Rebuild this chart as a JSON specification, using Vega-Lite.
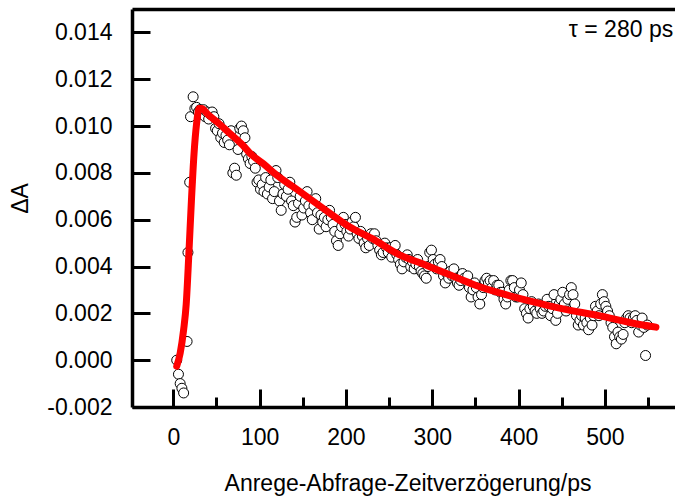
{
  "$schema": "https://vega.github.io/schema/vega-lite/v6.json",
  "autosize": {"type": "none"},
  "padding": {"left": 132, "top": 9, "right": 0, "bottom": 91},
  "width": 543,
  "height": 398,
  "background": "white",
  "config": {
    "view": {"stroke": null},
    "font": "Liberation Sans",
    "axis": {
      "grid": false,
      "domainColor": "black",
      "domainWidth": 3.5,
      "tickColor": "black",
      "tickWidth": 3,
      "labelColor": "black",
      "labelFont": "Liberation Sans",
      "labelFontSize": 23,
      "titleColor": "black",
      "titleFont": "Liberation Sans",
      "titleFontSize": 23,
      "titleFontWeight": "normal"
    }
  },
  "datasets": {
    "obs": [
      {"t": 4, "dA": 0.0000}, {"t": 6, "dA": -0.0006}, {"t": 8, "dA": -0.0010}, {"t": 10, "dA": -0.0012},
      {"t": 12, "dA": -0.0014}, {"t": 16, "dA": 0.0008}, {"t": 17, "dA": 0.0046}, {"t": 19, "dA": 0.0076},
      {"t": 20, "dA": 0.0104}, {"t": 23, "dA": 0.01125}, {"t": 25, "dA": 0.01075}, {"t": 27, "dA": 0.0108},
      {"t": 29, "dA": 0.0106}, {"t": 31, "dA": 0.0107}, {"t": 33, "dA": 0.0105}, {"t": 35, "dA": 0.0107},
      {"t": 37, "dA": 0.0104}, {"t": 39, "dA": 0.0106}, {"t": 41, "dA": 0.0103}, {"t": 43, "dA": 0.0105},
      {"t": 45, "dA": 0.0106}, {"t": 47, "dA": 0.0104}, {"t": 49, "dA": 0.0099}, {"t": 51, "dA": 0.0098},
      {"t": 53, "dA": 0.0101}, {"t": 55, "dA": 0.0095}, {"t": 57, "dA": 0.0097}, {"t": 59, "dA": 0.0093},
      {"t": 61, "dA": 0.0096}, {"t": 63, "dA": 0.0094}, {"t": 65, "dA": 0.0092}, {"t": 67, "dA": 0.0098},
      {"t": 69, "dA": 0.0080}, {"t": 71, "dA": 0.0082}, {"t": 73, "dA": 0.0079}, {"t": 75, "dA": 0.0090},
      {"t": 77, "dA": 0.0099}, {"t": 79, "dA": 0.0100}, {"t": 81, "dA": 0.0098}, {"t": 83, "dA": 0.0095},
      {"t": 85, "dA": 0.0088}, {"t": 87, "dA": 0.0086}, {"t": 89, "dA": 0.0084}, {"t": 91, "dA": 0.0087},
      {"t": 93, "dA": 0.0085}, {"t": 95, "dA": 0.0082}, {"t": 97, "dA": 0.0076}, {"t": 99, "dA": 0.0077},
      {"t": 101, "dA": 0.0073}, {"t": 103, "dA": 0.0075}, {"t": 105, "dA": 0.0072}, {"t": 107, "dA": 0.0078},
      {"t": 109, "dA": 0.0071}, {"t": 111, "dA": 0.0074}, {"t": 113, "dA": 0.0077}, {"t": 115, "dA": 0.0069},
      {"t": 117, "dA": 0.0072}, {"t": 119, "dA": 0.0081}, {"t": 121, "dA": 0.0078}, {"t": 123, "dA": 0.0068},
      {"t": 125, "dA": 0.0064}, {"t": 127, "dA": 0.0071}, {"t": 129, "dA": 0.0075}, {"t": 131, "dA": 0.0070},
      {"t": 133, "dA": 0.0073}, {"t": 135, "dA": 0.0076}, {"t": 137, "dA": 0.0068}, {"t": 139, "dA": 0.0066},
      {"t": 141, "dA": 0.0059}, {"t": 143, "dA": 0.0061}, {"t": 145, "dA": 0.0067}, {"t": 147, "dA": 0.0070},
      {"t": 149, "dA": 0.0062}, {"t": 151, "dA": 0.0065}, {"t": 153, "dA": 0.0068}, {"t": 155, "dA": 0.0072},
      {"t": 157, "dA": 0.0066}, {"t": 159, "dA": 0.0063}, {"t": 161, "dA": 0.0060}, {"t": 163, "dA": 0.0066},
      {"t": 165, "dA": 0.0069}, {"t": 167, "dA": 0.0063}, {"t": 169, "dA": 0.0056}, {"t": 171, "dA": 0.0062},
      {"t": 173, "dA": 0.0059}, {"t": 175, "dA": 0.0061}, {"t": 177, "dA": 0.0057}, {"t": 179, "dA": 0.0060},
      {"t": 181, "dA": 0.0064}, {"t": 183, "dA": 0.0061}, {"t": 185, "dA": 0.0058}, {"t": 187, "dA": 0.0055},
      {"t": 189, "dA": 0.0051}, {"t": 191, "dA": 0.0049}, {"t": 193, "dA": 0.0054}, {"t": 195, "dA": 0.0057},
      {"t": 197, "dA": 0.0061}, {"t": 199, "dA": 0.0058}, {"t": 201, "dA": 0.0055}, {"t": 203, "dA": 0.0053},
      {"t": 205, "dA": 0.0056}, {"t": 207, "dA": 0.0059}, {"t": 209, "dA": 0.0057}, {"t": 211, "dA": 0.0061},
      {"t": 213, "dA": 0.0054}, {"t": 215, "dA": 0.0052}, {"t": 217, "dA": 0.0055}, {"t": 219, "dA": 0.0053},
      {"t": 221, "dA": 0.0050}, {"t": 223, "dA": 0.0048}, {"t": 225, "dA": 0.0052}, {"t": 227, "dA": 0.0049},
      {"t": 229, "dA": 0.0054}, {"t": 231, "dA": 0.0052}, {"t": 233, "dA": 0.0054}, {"t": 235, "dA": 0.0051},
      {"t": 237, "dA": 0.0049}, {"t": 239, "dA": 0.0047}, {"t": 241, "dA": 0.0045}, {"t": 243, "dA": 0.0046},
      {"t": 245, "dA": 0.0050}, {"t": 247, "dA": 0.0048}, {"t": 249, "dA": 0.0046}, {"t": 251, "dA": 0.0048},
      {"t": 253, "dA": 0.0044}, {"t": 255, "dA": 0.0047}, {"t": 257, "dA": 0.0049}, {"t": 259, "dA": 0.0045},
      {"t": 261, "dA": 0.0043}, {"t": 263, "dA": 0.0041}, {"t": 265, "dA": 0.0039}, {"t": 267, "dA": 0.0042},
      {"t": 269, "dA": 0.0044}, {"t": 271, "dA": 0.0045}, {"t": 273, "dA": 0.0043}, {"t": 275, "dA": 0.0040},
      {"t": 277, "dA": 0.0042}, {"t": 279, "dA": 0.0039}, {"t": 281, "dA": 0.0041}, {"t": 283, "dA": 0.0043},
      {"t": 285, "dA": 0.0040}, {"t": 287, "dA": 0.0038}, {"t": 289, "dA": 0.0037}, {"t": 291, "dA": 0.0036},
      {"t": 293, "dA": 0.0035}, {"t": 295, "dA": 0.0040}, {"t": 297, "dA": 0.0046}, {"t": 299, "dA": 0.0047},
      {"t": 301, "dA": 0.0043}, {"t": 303, "dA": 0.0041}, {"t": 305, "dA": 0.0039}, {"t": 307, "dA": 0.0042},
      {"t": 309, "dA": 0.0043}, {"t": 311, "dA": 0.0040}, {"t": 313, "dA": 0.0036}, {"t": 315, "dA": 0.0033},
      {"t": 317, "dA": 0.0037}, {"t": 319, "dA": 0.0035}, {"t": 321, "dA": 0.0038}, {"t": 323, "dA": 0.0036},
      {"t": 325, "dA": 0.0039}, {"t": 327, "dA": 0.0035}, {"t": 329, "dA": 0.0033}, {"t": 331, "dA": 0.0032},
      {"t": 333, "dA": 0.0034}, {"t": 335, "dA": 0.0037}, {"t": 337, "dA": 0.0035}, {"t": 339, "dA": 0.0034},
      {"t": 341, "dA": 0.0036}, {"t": 343, "dA": 0.0031}, {"t": 345, "dA": 0.0027}, {"t": 347, "dA": 0.0030},
      {"t": 349, "dA": 0.0033}, {"t": 351, "dA": 0.0031}, {"t": 353, "dA": 0.0027}, {"t": 355, "dA": 0.0024},
      {"t": 357, "dA": 0.0028}, {"t": 359, "dA": 0.0031}, {"t": 361, "dA": 0.0034}, {"t": 363, "dA": 0.0035},
      {"t": 365, "dA": 0.0033}, {"t": 367, "dA": 0.0034}, {"t": 369, "dA": 0.0031}, {"t": 371, "dA": 0.0034},
      {"t": 373, "dA": 0.0030}, {"t": 375, "dA": 0.0032}, {"t": 377, "dA": 0.0032}, {"t": 379, "dA": 0.0029},
      {"t": 381, "dA": 0.0029}, {"t": 383, "dA": 0.0026}, {"t": 385, "dA": 0.0024}, {"t": 387, "dA": 0.0027},
      {"t": 389, "dA": 0.0030}, {"t": 391, "dA": 0.0034}, {"t": 393, "dA": 0.0034}, {"t": 395, "dA": 0.0031},
      {"t": 397, "dA": 0.0027}, {"t": 399, "dA": 0.0027}, {"t": 401, "dA": 0.0030}, {"t": 403, "dA": 0.0033},
      {"t": 405, "dA": 0.0028}, {"t": 407, "dA": 0.0022}, {"t": 409, "dA": 0.0020}, {"t": 411, "dA": 0.0018},
      {"t": 413, "dA": 0.0022}, {"t": 415, "dA": 0.0025}, {"t": 417, "dA": 0.0023}, {"t": 419, "dA": 0.0021},
      {"t": 421, "dA": 0.0020}, {"t": 423, "dA": 0.0024}, {"t": 425, "dA": 0.0022}, {"t": 427, "dA": 0.0020},
      {"t": 429, "dA": 0.0021}, {"t": 431, "dA": 0.0023}, {"t": 433, "dA": 0.0026}, {"t": 435, "dA": 0.0023},
      {"t": 437, "dA": 0.0019}, {"t": 439, "dA": 0.0022}, {"t": 441, "dA": 0.0028}, {"t": 443, "dA": 0.0017},
      {"t": 445, "dA": 0.0020}, {"t": 447, "dA": 0.0024}, {"t": 449, "dA": 0.0026}, {"t": 451, "dA": 0.0029},
      {"t": 453, "dA": 0.0024}, {"t": 455, "dA": 0.0021}, {"t": 457, "dA": 0.0026}, {"t": 459, "dA": 0.0028},
      {"t": 461, "dA": 0.0031}, {"t": 463, "dA": 0.0028}, {"t": 465, "dA": 0.0024}, {"t": 467, "dA": 0.0019},
      {"t": 469, "dA": 0.0015}, {"t": 471, "dA": 0.0017}, {"t": 473, "dA": 0.0019}, {"t": 475, "dA": 0.0015},
      {"t": 477, "dA": 0.0018}, {"t": 479, "dA": 0.0016}, {"t": 481, "dA": 0.0013}, {"t": 483, "dA": 0.0018},
      {"t": 485, "dA": 0.0015}, {"t": 487, "dA": 0.0019}, {"t": 489, "dA": 0.0023}, {"t": 491, "dA": 0.0021},
      {"t": 493, "dA": 0.0019}, {"t": 495, "dA": 0.0024}, {"t": 497, "dA": 0.0028}, {"t": 499, "dA": 0.0025},
      {"t": 501, "dA": 0.0023}, {"t": 503, "dA": 0.0021}, {"t": 505, "dA": 0.0019}, {"t": 507, "dA": 0.0016},
      {"t": 509, "dA": 0.0014}, {"t": 511, "dA": 0.0010}, {"t": 513, "dA": 0.0007}, {"t": 515, "dA": 0.0012},
      {"t": 517, "dA": 0.0010}, {"t": 519, "dA": 0.0009}, {"t": 521, "dA": 0.0011}, {"t": 523, "dA": 0.0016},
      {"t": 525, "dA": 0.0018}, {"t": 527, "dA": 0.0019}, {"t": 529, "dA": 0.0018}, {"t": 531, "dA": 0.0016},
      {"t": 533, "dA": 0.0018}, {"t": 535, "dA": 0.0019}, {"t": 537, "dA": 0.0017}, {"t": 539, "dA": 0.0012},
      {"t": 541, "dA": 0.0015}, {"t": 543, "dA": 0.0018}, {"t": 545, "dA": 0.0014}, {"t": 547, "dA": 0.0002},
      {"t": 549, "dA": 0.0015}
    ],
    "fit": [
      {"t": 4, "dA": -0.00026}, {"t": 8, "dA": 0.0003}, {"t": 12, "dA": 0.0013}, {"t": 15, "dA": 0.0024},
      {"t": 18, "dA": 0.0045}, {"t": 21, "dA": 0.0068}, {"t": 24, "dA": 0.0088}, {"t": 27, "dA": 0.0101},
      {"t": 30, "dA": 0.01075}, {"t": 33, "dA": 0.01075}, {"t": 40, "dA": 0.0105}, {"t": 50, "dA": 0.0102},
      {"t": 65, "dA": 0.0097}, {"t": 80, "dA": 0.0092}, {"t": 90, "dA": 0.0088}, {"t": 104, "dA": 0.0084},
      {"t": 120, "dA": 0.0079}, {"t": 143, "dA": 0.0073}, {"t": 173, "dA": 0.0065}, {"t": 204, "dA": 0.0057},
      {"t": 230, "dA": 0.0052}, {"t": 262, "dA": 0.0045}, {"t": 290, "dA": 0.0041}, {"t": 320, "dA": 0.00365},
      {"t": 350, "dA": 0.0032}, {"t": 380, "dA": 0.00285}, {"t": 416, "dA": 0.0025}, {"t": 450, "dA": 0.0022},
      {"t": 493, "dA": 0.0019}, {"t": 530, "dA": 0.0016}, {"t": 559, "dA": 0.00141}
    ],
    "note": [
      {"t": 579, "dA": 0.0141, "label": "τ = 280 ps"}
    ]
  },
  "resolve": {"axis": {"x": "independent"}},
  "layer": [
    {
      "data": {"name": "obs"},
      "mark": {"type": "point", "shape": "circle", "size": 100, "filled": false, "fill": "white", "fillOpacity": 1, "stroke": "black", "strokeWidth": 1, "opacity": 1},
      "encoding": {
        "x": {
          "field": "t", "type": "quantitative",
          "scale": {"domain": [-47.8, 581.1], "nice": false, "zero": false},
          "axis": {
            "orient": "bottom",
            "values": [0, 50, 100, 150, 200, 250, 300, 350, 400, 450, 500, 550],
            "labelExpr": "datum.value % 100 == 0 ? datum.label : ''",
            "tickSize": {"condition": {"test": "datum.value % 100 == 0", "value": -18}, "value": -10},
            "labelPadding": 37,
            "title": "Anrege-Abfrage-Zeitverzögerung/ps",
            "titleX": 275.5,
            "titleY": 65
          }
        },
        "y": {
          "field": "dA", "type": "quantitative",
          "scale": {"domain": [-0.002, 0.015], "nice": false, "zero": false},
          "axis": {
            "orient": "left",
            "values": [-0.002, -0.001, 0, 0.001, 0.002, 0.003, 0.004, 0.005, 0.006, 0.007, 0.008, 0.009, 0.010, 0.011, 0.012, 0.013, 0.014],
            "labelExpr": "abs(round(datum.value * 1000)) % 2 == 0 ? (datum.value < 0 ? '-' + format(-datum.value, '.3f') : format(datum.value, '.3f')) : ''",
            "tickSize": {"condition": {"test": "abs(round(datum.value * 1000)) % 2 == 0", "value": -18}, "value": -10},
            "labelPadding": 38,
            "title": "ΔA",
            "titleX": -100,
            "titleY": 189
          }
        }
      }
    },
    {
      "data": {"name": "fit"},
      "mark": {"type": "line", "color": "#ff0000", "strokeWidth": 7, "strokeCap": "round", "strokeJoin": "round", "interpolate": "monotone"},
      "encoding": {
        "x": {
          "field": "t", "type": "quantitative",
          "scale": {"domain": [-47.8, 581.1], "nice": false, "zero": false},
          "axis": {"orient": "top", "labels": false, "ticks": false, "title": null, "domain": true}
        },
        "y": {
          "field": "dA", "type": "quantitative",
          "scale": {"domain": [-0.002, 0.015], "nice": false, "zero": false}
        }
      }
    },
    {
      "data": {"name": "note"},
      "mark": {"type": "text", "align": "right", "baseline": "middle", "font": "Liberation Sans", "fontSize": 23, "color": "black"},
      "encoding": {
        "x": {"field": "t", "type": "quantitative", "axis": null},
        "y": {"field": "dA", "type": "quantitative"},
        "text": {"field": "label"}
      }
    }
  ]
}
